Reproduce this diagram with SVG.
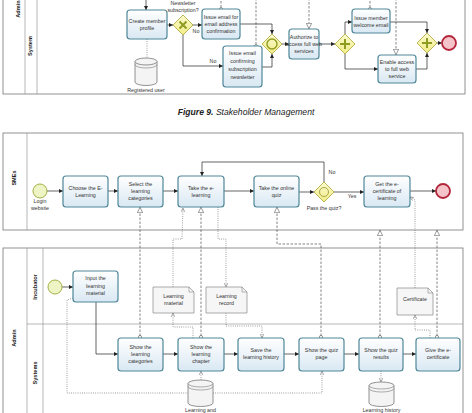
<svg xmlns="http://www.w3.org/2000/svg" width="472" height="413" viewBox="0 0 472 413">
<style>
text{font-family:"Liberation Sans",Arial,sans-serif;fill:#333;}
.t{font-size:5.3px;text-anchor:middle;}
.lbl{font-size:5.6px;text-anchor:middle;font-weight:bold;fill:#222;}
.pool{fill:#fff;stroke:#777;stroke-width:0.8;}
.lane{stroke:#999;stroke-width:0.7;fill:none;}
.task{fill:url(#tg);stroke:#4f8799;stroke-width:1.2;}
.gw{fill:url(#gg);stroke:#b3ae45;stroke-width:0.9;}
.gm{stroke:#8f9c22;stroke-width:2;fill:none;}
.start{fill:#eef4c4;stroke:#a3b143;stroke-width:1;}
.end{fill:#f5c4cb;stroke:#b3263a;stroke-width:1.8;}
.seq{stroke:#222;stroke-width:0.7;fill:none;marker-end:url(#sa);}
.msg{stroke:#555;stroke-width:0.7;fill:none;stroke-dasharray:2.5 1.5;}
.ma{marker-end:url(#ma);}
.asc{stroke:#555;stroke-width:0.7;fill:none;stroke-dasharray:0.8 1.4;}
.aa{marker-end:url(#aa);}
.doc{fill:#f6f6f6;stroke:#888;stroke-width:0.7;}
.ds{fill:#f4f4f4;stroke:#777;stroke-width:0.8;}
.mc{fill:#fff;stroke:#555;stroke-width:0.6;}
</style>
<defs>
<linearGradient id="tg" x1="0" y1="0" x2="0" y2="1"><stop offset="0" stop-color="#ffffff"/><stop offset="1" stop-color="#d9e8f3"/></linearGradient>
<linearGradient id="gg" x1="0" y1="0" x2="0" y2="1"><stop offset="0" stop-color="#fbfad0"/><stop offset="1" stop-color="#f1ec86"/></linearGradient>
<marker id="sa" viewBox="0 0 10 10" refX="10" refY="5" markerWidth="4" markerHeight="4" markerUnits="userSpaceOnUse" orient="auto"><path d="M0,0 L10,5 L0,10 z" fill="#222"/></marker>
<marker id="ma" viewBox="0 0 10 10" refX="10" refY="5" markerWidth="6" markerHeight="6" markerUnits="userSpaceOnUse" orient="auto"><path d="M0.5,0.5 L9.5,5 L0.5,9.5 z" fill="#fff" stroke="#555" stroke-width="1"/></marker>
<marker id="aa" viewBox="0 0 10 10" refX="10" refY="5" markerWidth="4" markerHeight="4" markerUnits="userSpaceOnUse" orient="auto"><path d="M0,0.5 L10,5 L0,9.5" fill="none" stroke="#555" stroke-width="1.2"/></marker>
</defs>
<rect width="472" height="413" fill="#fff"/>

<!-- ===== Top figure (Figure 9 remnant) ===== -->
<g id="pool-top">
<rect class="pool" x="3" y="-5" width="462" height="99"/>
<line class="lane" x1="25" y1="-5" x2="25" y2="94"/>
<line class="lane" x1="37" y1="-5" x2="37" y2="94"/>
<text class="lbl" transform="translate(20,9) rotate(-90)">Admin</text>
<text class="lbl" transform="translate(32,46) rotate(-90)">System</text>
</g>

<g id="connectors-top">
<path class="seq" d="M146,-2 V10"/>
<path class="asc" d="M147,39 V58"/>
<path class="seq" d="M167,25 H173"/>
<path class="seq" d="M193,25 H202"/>
<path class="seq" d="M183,35 V66 H223"/>
<path class="msg" d="M221,7.5 V-2"/>
<circle class="mc" cx="221" cy="9" r="1.5"/>
<path class="msg" d="M256,44.5 V-2"/>
<circle class="mc" cx="256" cy="46" r="1.5"/>
<path class="seq" d="M240,24 H272 V34"/>
<path class="seq" d="M262,67 H272 V54"/>
<path class="seq" d="M282,44 H289"/>
<path class="msg ma" d="M309,-2 V29"/>
<path class="seq" d="M319,44 H335"/>
<path class="seq" d="M345,34 V22 H352"/>
<path class="seq" d="M345,54 V69 H378"/>
<path class="msg" d="M370,7.5 V-2"/>
<circle class="mc" cx="370" cy="9" r="1.5"/>
<path class="msg ma" d="M396,-2 V55"/>
<path class="seq" d="M390,22 H427 V33"/>
<path class="seq" d="M416,69 H427 V53"/>
<path class="seq" d="M437,43 H442"/>
<text class="t" x="196" y="33">No</text>
<text class="t" x="213" y="63">No</text>
</g>

<g id="create-member"><rect class="task" x="127" y="10" width="40" height="29" rx="3"/><text class="t" x="147" y="23">Create member</text><text class="t" x="147" y="30">profile</text></g>
<g id="registered-user">
<path class="ds" d="M135,61.5 V82 A11,3.5 0 0 0 157,82 V61.5 A11,3.5 0 0 0 135,61.5 z"/>
<path class="ds" d="M135,61.5 A11,3.5 0 0 0 157,61.5" fill="none"/>
<path d="M135,64.5 A11,3.5 0 0 0 157,64.5" fill="none" stroke="#777" stroke-width="0.6"/>
<text class="t" x="146" y="92">Registered user</text></g>
<g id="gw-newsletter"><g transform="translate(183,25)"><polygon class="gw" points="0,-10 10,0 0,10 -10,0"/><path class="gm" d="M-3.5,-3.5 L3.5,3.5 M3.5,-3.5 L-3.5,3.5"/></g>
<text class="t" x="183" y="5">Newsletter</text><text class="t" x="183" y="12">subscription?</text></g>
<g id="issue-confirm"><rect class="task" x="202" y="9" width="38" height="30" rx="3"/><text class="t" x="221" y="19">Issue email for</text><text class="t" x="221" y="26">email address</text><text class="t" x="221" y="33">confirmation</text></g>
<g id="issue-newsletter"><rect class="task" x="223" y="46" width="39" height="41" rx="3"/><text class="t" x="242.5" y="55">Issue email</text><text class="t" x="242.5" y="63">confirming</text><text class="t" x="242.5" y="71">subscription</text><text class="t" x="242.5" y="79">newsletter</text></g>
<g id="gw-merge"><g transform="translate(272,44)"><polygon class="gw" points="0,-10 10,0 0,10 -10,0"/><circle cx="0" cy="0" r="5" fill="none" stroke="#8f9c22" stroke-width="1.4"/></g></g>
<g id="authorize"><rect class="task" x="289" y="29" width="30" height="30" rx="3"/><text class="t" x="304" y="39">Authorize to</text><text class="t" x="304" y="46">access full web</text><text class="t" x="304" y="53">services</text></g>
<g id="gw-split"><g transform="translate(345,44)"><polygon class="gw" points="0,-10 10,0 0,10 -10,0"/><path class="gm" d="M0,-5 V5 M-5,0 H5" stroke-width="2.4"/></g></g>
<g id="welcome"><rect class="task" x="352" y="9" width="38" height="24" rx="3"/><text class="t" x="371" y="20">Issue member</text><text class="t" x="371" y="27">welcome email</text></g>
<g id="enable"><rect class="task" x="378" y="55" width="38" height="28" rx="3"/><text class="t" x="397" y="64">Enable access</text><text class="t" x="397" y="71">to full web</text><text class="t" x="397" y="78">service</text></g>
<g id="gw-join"><g transform="translate(427,43)"><polygon class="gw" points="0,-10 10,0 0,10 -10,0"/><path class="gm" d="M0,-5 V5 M-5,0 H5" stroke-width="2.4"/></g></g>
<g id="end-top"><circle class="end" cx="449" cy="43" r="7"/></g>

<g id="caption"><text x="246" y="115" text-anchor="middle" style="font-size:8.6px;font-style:italic;fill:#222"><tspan font-weight="bold">Figure 9.</tspan> Stakeholder Management</text></g>

<!-- ===== Bottom figure ===== -->
<g id="pool-smes">
<rect class="pool" x="3" y="133" width="460" height="97"/>
<line class="lane" x1="27" y1="133" x2="27" y2="230"/>
<text class="lbl" transform="translate(16,178) rotate(-90)">SMEs</text>
</g>
<g id="pool-admin">
<rect class="pool" x="3" y="248" width="460" height="175"/>
<line class="lane" x1="27" y1="248" x2="27" y2="413"/>
<line class="lane" x1="43" y1="248" x2="43" y2="413"/>
<line class="lane" x1="27" y1="324" x2="463" y2="324"/>
<text class="lbl" transform="translate(16,338) rotate(-90)">Admin</text>
<text class="lbl" transform="translate(37,287) rotate(-90)">Incubator</text>
<text class="lbl" transform="translate(37,373) rotate(-90)">Systems</text>
</g>

<g id="connectors">
<path class="seq" d="M47,191 H63"/>
<path class="seq" d="M108,191 H118"/>
<path class="seq" d="M163,191 H178"/>
<path class="seq" d="M224,191 H254"/>
<path class="seq" d="M299,192 H314"/>
<path class="seq" d="M324,182 V162 H202 V176"/>
<path class="seq" d="M334,192 H364"/>
<path class="seq" d="M410,191 H436"/>
<path class="seq" d="M62,287 H73"/>
<path class="seq" d="M96,302 V354 H118"/>
<path class="seq" d="M163,354 H178"/>
<path class="seq" d="M224,354 H238"/>
<path class="seq" d="M284,354 H299"/>
<path class="seq" d="M344,354 H359"/>
<path class="seq" d="M403,354 H416"/>
<path class="msg ma" d="M140,336 V207"/>
<path class="msg ma" d="M201,336 V207"/>
<path class="msg ma" d="M321,336 V244 H277 V207"/>
<path class="msg ma" d="M380,336 V230"/>
<path class="msg ma" d="M437,336 V230"/>
<circle class="mc" cx="140" cy="337" r="1.6"/>
<circle class="mc" cx="201" cy="337" r="1.6"/>
<circle class="mc" cx="321" cy="337" r="1.6"/>
<circle class="mc" cx="380" cy="337" r="1.6"/>
<circle class="mc" cx="437" cy="337" r="1.6"/>
<path class="asc aa" d="M173,287 V239 H182 L183,208"/>
<path class="asc aa" d="M218,207 V239 H226 V287"/>
<path class="asc aa" d="M193,338 V327 H173 V313"/>
<path class="asc aa" d="M226,313 V326 H262 V338"/>
<path class="asc aa" d="M415,288 V200 L410,197"/>
<path class="asc aa" d="M430,338 V330 H415 V315"/>
<path class="asc aa" d="M201,380 V371"/>
<path class="asc" d="M73,298 L67,300 V393 H188"/>
<path class="asc aa" d="M213,393 H322 V371"/>
<path class="asc aa" d="M381,371 V382"/>
<text class="t" x="332" y="174">No</text>
<text class="t" x="352" y="198">Yes</text>
</g>

<g id="login"><circle class="start" cx="40" cy="191" r="7"/><text class="t" x="40" y="203">Login</text><text class="t" x="40" y="210">website</text></g>
<g id="choose"><rect class="task" x="63" y="176" width="45" height="31" rx="3"/><text class="t" x="85.5" y="190">Choose the E-</text><text class="t" x="85.5" y="197">Learning</text></g>
<g id="select"><rect class="task" x="118" y="176" width="45" height="31" rx="3"/><text class="t" x="140.5" y="186">Select the</text><text class="t" x="140.5" y="193">learning</text><text class="t" x="140.5" y="200">categories</text></g>
<g id="take-elearning"><rect class="task" x="178" y="176" width="46" height="31" rx="3"/><text class="t" x="201" y="190">Take the e-</text><text class="t" x="201" y="197">learning</text></g>
<g id="take-quiz"><rect class="task" x="254" y="176" width="45" height="31" rx="3"/><text class="t" x="276.5" y="190">Take the online</text><text class="t" x="276.5" y="197">quiz</text></g>
<g id="gw-pass"><g transform="translate(324,192)"><polygon class="gw" points="0,-10 10,0 0,10 -10,0"/><circle cx="0" cy="0" r="4.5" fill="none" stroke="#a9a64a" stroke-width="1"/></g><text class="t" x="324" y="210">Pass the quiz?</text></g>
<g id="get-cert"><rect class="task" x="364" y="176" width="46" height="31" rx="3"/><text class="t" x="387" y="186">Get the e-</text><text class="t" x="387" y="193">certificate of</text><text class="t" x="387" y="200">learning</text></g>
<g id="end"><circle class="end" cx="443" cy="191" r="7"/></g>

<g id="start-incubator"><circle class="start" cx="55" cy="287" r="7"/></g>
<g id="input-material"><rect class="task" x="73" y="271" width="45" height="31" rx="3"/><text class="t" x="95.5" y="280">Input the</text><text class="t" x="95.5" y="287.5">learning</text><text class="t" x="95.5" y="295">material</text></g>
<g id="show-categories"><rect class="task" x="118" y="338" width="45" height="33" rx="3"/><text class="t" x="140.5" y="349">Show the</text><text class="t" x="140.5" y="356">learning</text><text class="t" x="140.5" y="363">categories</text></g>
<g id="show-chapter"><rect class="task" x="178" y="338" width="46" height="33" rx="3"/><text class="t" x="201" y="349">Show the</text><text class="t" x="201" y="356">learning</text><text class="t" x="201" y="363">chapter</text></g>
<g id="save-history"><rect class="task" x="238" y="338" width="46" height="33" rx="3"/><text class="t" x="261" y="352">Save the</text><text class="t" x="261" y="359">learning history</text></g>
<g id="show-quiz-page"><rect class="task" x="299" y="338" width="45" height="33" rx="3"/><text class="t" x="321.5" y="352">Show the quiz</text><text class="t" x="321.5" y="359">page</text></g>
<g id="show-quiz-results"><rect class="task" x="359" y="338" width="44" height="33" rx="3"/><text class="t" x="381" y="352">Show the quiz</text><text class="t" x="381" y="359">results</text></g>
<g id="give-cert"><rect class="task" x="416" y="338" width="44" height="33" rx="3"/><text class="t" x="438" y="352">Give the e-</text><text class="t" x="438" y="359">certificate</text></g>

<g id="learning-material"><path class="doc" d="M153,287 H189 L194,292 V313 H153 z"/><path d="M189,287 V292 H194" fill="none" stroke="#888" stroke-width="0.6"/><text class="t" x="173.5" y="298">Learning</text><text class="t" x="173.5" y="305">material</text></g>
<g id="learning-record"><path class="doc" d="M206,287 H242 L247,292 V313 H206 z"/><path d="M242,287 V292 H247" fill="none" stroke="#888" stroke-width="0.6"/><text class="t" x="226.5" y="298">Learning</text><text class="t" x="226.5" y="305">record</text></g>
<g id="certificate"><path class="doc" d="M397,288 H428 L433,293 V315 H397 z"/><path d="M428,288 V293 H433" fill="none" stroke="#888" stroke-width="0.6"/><text class="t" x="415" y="301">Certificate</text></g>

<g id="ds-learning"><path class="ds" d="M188,383.5 V403 A12.5,3.5 0 0 0 213,403 V383.5 A12.5,3.5 0 0 0 188,383.5 z"/><path d="M188,383.5 A12.5,3.5 0 0 0 213,383.5 M188,386.5 A12.5,3.5 0 0 0 213,386.5" fill="none" stroke="#777" stroke-width="0.6"/><text class="t" x="200.5" y="412">Learning and</text></g>
<g id="ds-history"><path class="ds" d="M369,385.5 V403 A12.5,3.5 0 0 0 394,403 V385.5 A12.5,3.5 0 0 0 369,385.5 z"/><path d="M369,385.5 A12.5,3.5 0 0 0 394,385.5 M369,388.5 A12.5,3.5 0 0 0 394,388.5" fill="none" stroke="#777" stroke-width="0.6"/><text class="t" x="381.5" y="412">Learning history</text></g>
</svg>
